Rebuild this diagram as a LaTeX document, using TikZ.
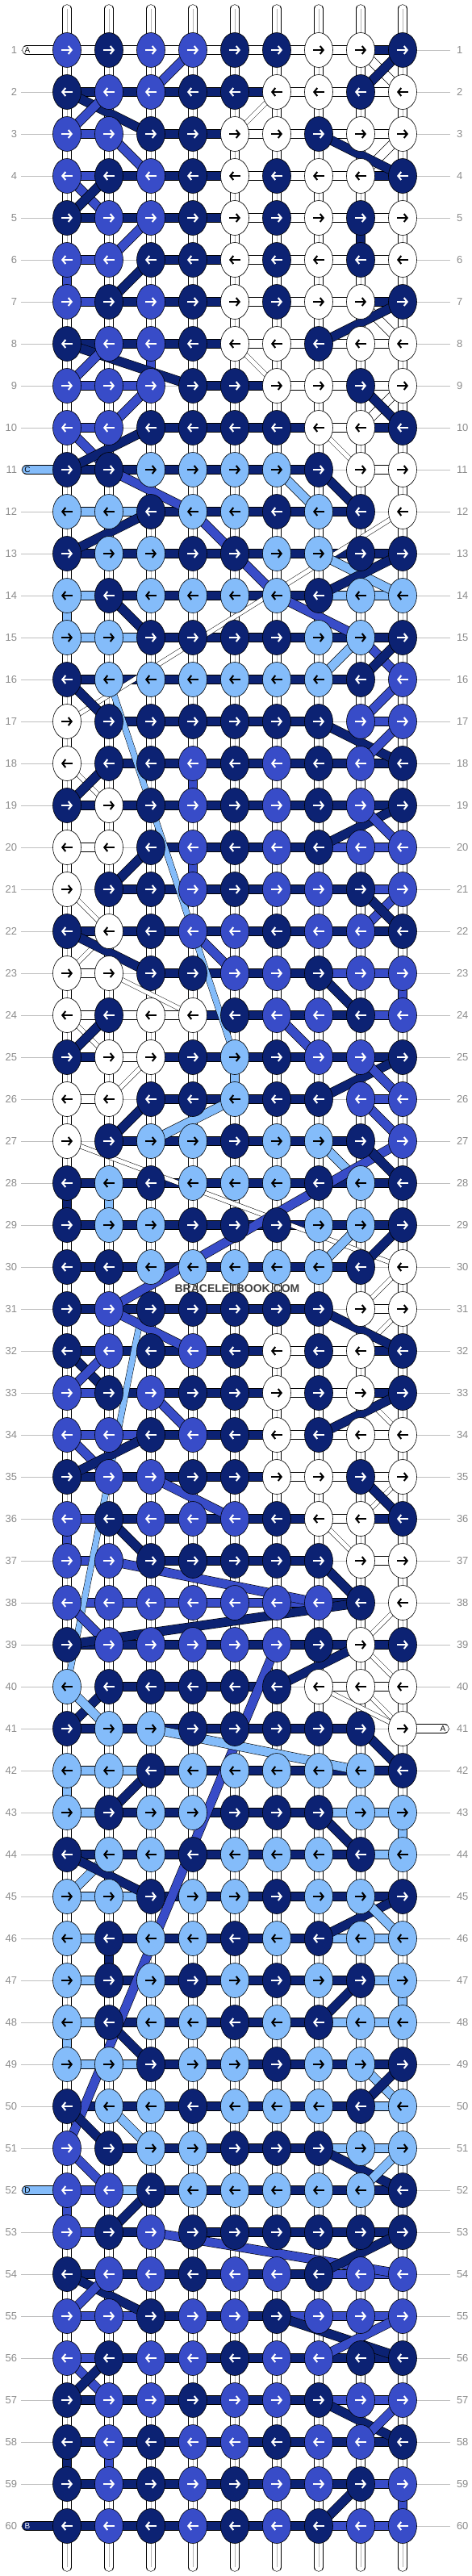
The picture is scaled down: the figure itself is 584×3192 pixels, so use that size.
\documentclass[tikz,border=0pt]{standalone}
\usepackage{fontspec}
\setmainfont{Liberation Sans}
\usetikzlibrary{arrows.meta}
\usetikzlibrary{backgrounds}
\usetikzlibrary{shapes.geometric}
\definecolor{N}{HTML}{0C2273}
\definecolor{M}{HTML}{384CC8}
\definecolor{L}{HTML}{84BCFA}
\definecolor{W}{HTML}{FFFFFF}
\tikzset{
	knotstyle/.style={ellipse,draw=black,line width=0.6pt,minimum width=35pt,minimum height=43pt,inner sep=0pt},
	arrowstyle/.style={line width=2pt,-{Straight Barb[length=4pt,width=10pt]}},
	tipN/.style={white},
	tipM/.style={white},
	tipL/.style={black},
	tipW/.style={black},
	barstyle/.style={draw=black,line width=0.6pt,double=#1,double distance=10.5pt},
	midstyle/.style={draw=black,line width=0.5pt,double=#1,double distance=7pt},
	thinstyle/.style={draw=black,line width=0.5pt,double=white,double distance=5pt},
	strandstyle/.style={draw=black,line width=0.6pt,double=white,double distance=10pt,line cap=round},
	rowline/.style={draw=black!25,line width=0.8pt},
	lblstyle/.style={font=\fontsize{13}{13}\selectfont,text=black!45,inner sep=0pt},
	tagstyle/.style={font=\fontsize{10}{10}\selectfont,inner sep=0pt}
}
\def\patterndata{
1/{M,N,M,M,N,N,W,W,N}/{W,W,W,W,W,W,W,N},
2/{N,M,M,N,N,W,W,N,W}/{N,N,N,N,N,W,W,W},
3/{M,M,N,N,W,W,N,W,W}/{M,O,N,N,W,W,W,W},
4/{M,N,M,N,W,N,W,W,N}/{M,N,N,N,W,W,W,N},
5/{N,M,M,N,W,N,W,N,W}/{N,N,N,N,W,W,W,W},
6/{M,M,N,N,W,N,W,N,W}/{M,O,N,N,W,W,W,W},
7/{M,N,M,N,W,N,W,W,N}/{M,N,N,N,W,W,W,N},
8/{N,M,M,N,W,W,N,W,W}/{N,N,N,N,W,W,W,W},
9/{M,M,M,N,N,W,W,N,W}/{M,M,O,N,N,W,W,W},
10/{M,M,N,N,N,N,W,W,N}/{M,O,N,N,N,N,W,N},
11/{N,N,L,L,L,L,N,W,W}/{N,N,N,N,N,N,O,W},
12/{L,L,N,L,L,N,L,N,W}/{L,L,N,N,N,N,N,O},
13/{N,L,L,N,N,L,L,N,N}/{N,N,N,N,N,N,N,N},
14/{L,N,L,L,L,L,N,L,L}/{L,N,N,N,N,N,L,L},
15/{L,L,N,N,N,N,L,L,N}/{L,L,N,N,N,N,N,N},
16/{N,L,L,L,L,L,L,N,M}/{N,N,N,N,N,N,N,O},
17/{W,N,N,N,N,N,N,M,M}/{O,N,N,N,N,N,O,M},
18/{W,N,N,M,N,M,N,M,N}/{O,N,N,N,N,N,N,N},
19/{N,W,N,M,N,M,N,M,N}/{N,N,N,N,N,N,N,N},
20/{W,W,N,M,N,M,N,M,M}/{W,O,N,N,N,N,M,M},
21/{W,N,N,M,N,M,M,N,M}/{O,N,N,N,N,N,N,M},
22/{N,W,N,M,M,N,M,M,N}/{N,N,N,N,N,N,N,N},
23/{W,W,N,N,M,M,N,M,M}/{W,O,N,N,N,N,M,M},
24/{W,N,W,W,N,M,M,N,M}/{W,W,W,N,N,N,N,M},
25/{N,W,W,N,L,N,M,M,N}/{N,W,N,N,N,N,N,N},
26/{W,W,N,N,L,N,N,M,M}/{W,O,N,N,N,N,O,M},
27/{W,N,L,L,N,L,L,N,M}/{O,N,N,N,N,N,N,O},
28/{N,L,N,L,L,L,N,L,N}/{N,N,N,N,N,N,N,N},
29/{N,L,L,N,N,N,L,L,N}/{N,N,N,N,N,N,N,N},
30/{N,N,L,L,L,L,L,N,W}/{N,N,N,N,N,N,N,O},
31/{N,M,N,N,N,N,N,W,W}/{N,N,N,N,N,N,O,W},
32/{N,M,N,M,N,W,N,W,N}/{N,N,N,N,N,W,W,N},
33/{M,N,M,N,N,W,N,W,N}/{M,N,N,N,N,W,W,N},
34/{M,M,N,M,N,W,N,W,W}/{M,M,N,N,N,W,W,W},
35/{N,M,M,N,N,W,W,N,W}/{N,N,N,N,N,W,W,W},
36/{M,N,M,M,M,N,W,W,N}/{M,N,N,N,N,N,W,N},
37/{M,M,N,N,N,N,N,W,W}/{M,O,N,N,N,N,O,W},
38/{M,M,M,M,M,M,M,N,W}/{M,M,M,M,M,M,N,O},
39/{N,M,M,M,M,M,N,W,N}/{N,N,N,N,N,N,N,N},
40/{L,N,N,N,N,N,W,W,W}/{O,N,N,N,N,O,W,W},
41/{N,L,L,N,N,N,N,N,W}/{N,N,N,N,N,N,N,O},
42/{L,L,N,L,L,L,L,L,N}/{L,L,N,N,N,N,N,N},
43/{L,N,L,L,N,N,N,L,L}/{L,N,N,N,N,N,L,L},
44/{N,L,L,N,L,L,L,N,L}/{N,N,N,N,N,N,N,L},
45/{L,L,N,L,L,N,L,L,N}/{L,L,N,N,N,N,N,N},
46/{L,N,L,L,N,L,N,L,L}/{L,N,N,N,N,N,L,L},
47/{L,N,L,N,L,N,L,N,L}/{L,N,N,N,N,N,N,L},
48/{L,N,L,L,N,L,N,L,L}/{L,N,N,N,N,N,L,L},
49/{L,L,N,L,L,N,L,L,N}/{L,L,N,N,N,N,N,N},
50/{N,L,L,N,L,L,L,N,L}/{N,N,N,N,N,N,N,L},
51/{M,N,L,L,N,N,N,L,L}/{O,N,N,N,N,N,L,L},
52/{M,M,N,L,L,L,L,L,N}/{M,L,N,N,N,N,N,N},
53/{M,N,M,N,N,N,N,N,N}/{M,N,O,N,N,N,N,N},
54/{N,M,M,N,M,M,N,M,M}/{N,N,N,N,N,N,M,M},
55/{M,M,N,M,M,N,M,M,M}/{M,M,N,N,N,M,M,M},
56/{M,N,M,M,N,M,M,N,N}/{M,N,N,N,N,N,N,N},
57/{N,M,M,N,M,M,N,M,M}/{N,N,N,N,N,N,M,M},
58/{N,M,N,M,M,N,M,M,N}/{N,N,N,N,N,N,N,N},
59/{N,M,N,M,N,M,M,N,M}/{N,N,N,N,N,N,N,M},
60/{N,M,N,M,N,M,N,M,M}/{N,N,N,N,N,N,M,M}}

\begin{document}
\begin{tikzpicture}[x=1pt,y=-1pt]
	\useasboundingbox (0,0) rectangle (584,3192);
	% knots
	\foreach \r/\ks/\bs in \patterndata {
		\ifodd\r\relax \def\dir{1}\else \def\dir{-1}\fi
		\foreach \k [count=\c] in \ks {
			\node[knotstyle,fill=\k] (k\r-\c) at ({83+52*(\c-1)},{62+52*(\r-1)}) {};
			\draw[arrowstyle,tip\k] (k\r-\c.center) +({-7*\dir},0) -- +({7*\dir},0);
		}
		\node[lblstyle,anchor=east,outer sep=5pt] (lb\r) at (26,{62+52*(\r-1)}) {\r};
		\node[lblstyle,anchor=west,outer sep=8pt] (rb\r) at (558,{62+52*(\r-1)}) {\r};
	}
	% strand ends
	\foreach \c in {1,...,9} {
		\coordinate (top\c) at ({83+52*(\c-1)},11);
		\coordinate (bot\c) at ({83+52*(\c-1)},3181);
	}
	\coordinate (endA) at (33,62);
	\coordinate (endC) at (33,582);
	\coordinate (endD) at (33,2714);
	\coordinate (endB) at (33,3130);
	\coordinate (endA2) at (551,2142);
	\node[tagstyle] (tagA) at (34,62) {A};
	\node[tagstyle] (tagC) at (34,582) {C};
	\node[tagstyle] (tagD) at (34,2714) {D};
	\node[tagstyle,text=white] (tagB) at (34,3130) {B};
	\node[tagstyle] (tagA2) at (549,2142) {A};
	\node[font=\bfseries\fontsize{14}{14}\selectfont,text=black!75,inner sep=0pt] (mark) at (294,1597) {BRACELETBOOK.COM};

	\begin{scope}[on background layer]
		\foreach \r in {1,...,60} {
			\draw[rowline] (lb\r.east) -- (rb\r.west);
		}
		\foreach \c in {1,...,9} {
			\draw[strandstyle] (top\c) -- (bot\c);
			\draw[black!30,line width=0.6pt] (top\c) -- (bot\c);
		}
		\draw[strandstyle] (endA) -- (k1-1.center);
		\draw[barstyle=L,line cap=round] (endC) -- (k11-1.center);
		\draw[barstyle=L,line cap=round] (endD) -- (k52-1.center);
		\draw[barstyle=N,line cap=round] (endB) -- (k60-1.center);
		\draw[strandstyle] (endA2) -- (k41-9.center);
		% colored vertical pieces
		\foreach \ra/\rb/\c/\clr in {6/7/1/M,8/9/3/M,5/6/8/N,14/15/1/L,18/19/4/M,20/21/4/M,23/24/9/M,
			25/26/5/L,28/29/1/N,28/29/2/L,36/37/1/M,42/43/1/L,43/44/9/L,46/47/2/N,47/48/9/L,
			48/49/1/L,52/53/1/M,58/59/1/N,58/59/2/M,59/60/9/M}
			\draw[barstyle=\clr] (k\ra-\c.center) -- (k\rb-\c.center);
		% row bars
		\foreach \r/\ks/\bs in \patterndata {
			\foreach \b [count=\c] in \bs {
				\if\b O\else
					\pgfmathtruncatemacro\d{\c+1}
					\draw[barstyle=\b] (k\r-\c.center) -- (k\r-\d.center);
				\fi
			}
		}
		% white cross strands
		\foreach \ra/\ca/\rb/\cb in {3/5/2/6,8/5/9/6,10/7/11/8,12/9/17/1,18/1/19/2,21/1/22/2,23/1/22/2,
			23/2/24/4,24/1/25/2,25/3/26/2,27/1/30/9,30/9/31/8,31/9/32/8,33/8/34/9,36/8/35/9,36/7/37/8,
			38/9/39/8,39/8/40/9,40/8/41/9,40/7/41/9}
			\draw[thinstyle] (k\ra-\ca.center) -- (k\rb-\cb.center);
		\foreach \ra/\ca/\rb/\cb in {1/8/2/9,4/8/3/9,7/8/8/9,10/8/9/9}
			\draw[barstyle=W] (k\ra-\ca.center) -- (k\rb-\cb.center);
		% long light strands
		\draw[midstyle=L] (k16-2.center) -- (k25-5.center);
		\draw[midstyle=L] (k30-3.center) -- (k40-1.center);
		% colored cross strands
		\foreach \ra/\ca/\rb/\cb/\clr in {2/3/1/4/M,2/1/3/3/N,3/1/2/2/M,3/2/4/3/M,4/1/5/2/M,5/1/4/2/N,
			6/2/5/3/M,7/2/6/3/N,8/1/9/4/N,9/1/8/2/M,10/2/9/3/M,3/7/4/9/N,2/8/1/9/N,8/7/7/9/N,9/8/10/9/N,
			11/7/12/8/N,10/1/11/2/M,11/2/12/4/M,12/4/13/5/M,13/5/14/6/M,14/6/15/8/M,15/8/16/9/M,
			10/3/11/1/N,13/1/12/3/N,11/6/12/7/L,13/7/14/9/L,14/7/13/9/N,14/2/15/3/N,16/7/15/8/L,
			16/8/15/9/N,16/1/17/2/N,17/7/18/9/N,17/8/16/9/M,18/8/17/9/M,19/1/18/2/N,20/3/21/2/N,
			20/7/19/9/N,19/8/20/9/M,22/1/23/3/N,22/4/23/5/M,23/7/24/8/N,25/1/24/2/N,24/6/25/7/M,
			27/2/26/3/N,26/7/25/9/N,26/5/27/3/L,27/7/28/8/L,27/9/31/2/M,30/7/29/8/L,30/8/29/9/N,
			27/8/28/9/N,26/8/27/9/M,25/8/26/9/M,22/8/21/9/M,21/8/22/9/N,31/2/32/4/M,32/1/33/2/N,
			33/1/32/2/M,33/3/34/4/M,34/1/35/2/M,35/1/34/3/N,35/3/36/5/M,36/2/37/3/N,37/2/38/7/M,
			37/7/38/8/N,38/1/39/2/M,39/1/38/8/N,39/6/51/1/M,41/1/40/2/N,40/1/41/2/L,40/6/39/8/N,
			31/7/32/9/N,34/7/33/9/N,35/8/36/9/N,41/3/42/8/L,42/3/43/2/N,43/7/44/8/N,45/1/44/2/L,
			44/1/45/3/N,46/7/45/9/N,45/8/46/9/L,47/8/48/7/N,48/2/49/3/N,49/8/50/9/L,50/8/49/9/N,
			50/1/51/2/N,50/2/51/3/L,41/8/42/9/N,51/7/52/9/N,52/8/51/9/L,51/1/52/2/M,52/3/53/2/N,
			53/3/54/9/M,54/7/53/9/N,54/1/55/3/N,55/1/54/2/M,55/6/56/9/N,56/7/55/9/M,56/1/57/2/M,
			57/1/56/2/N,57/7/58/9/N,58/8/57/9/M,60/7/59/8/N}
			\draw[barstyle=\clr] (k\ra-\ca.center) -- (k\rb-\cb.center);
	\end{scope}
\end{tikzpicture}
\end{document}
